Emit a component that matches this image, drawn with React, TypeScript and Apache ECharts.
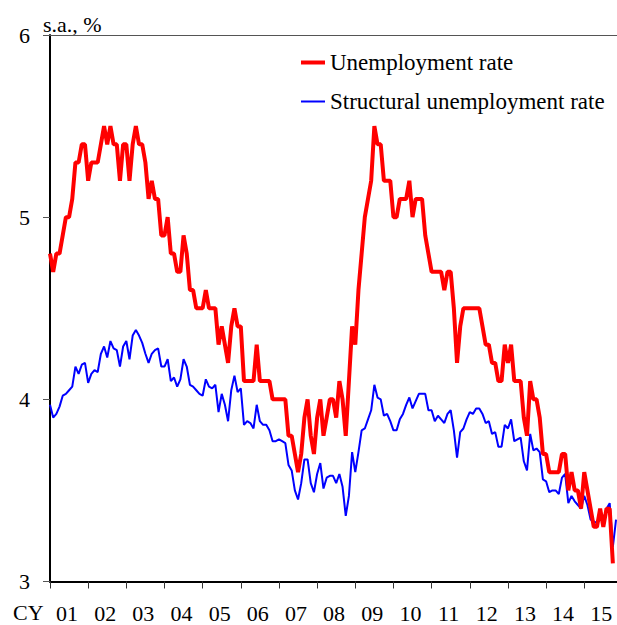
import React, { useEffect, useRef } from "react";
import * as echarts from "echarts";

// Monthly, Jan 2001 onward (index = months since Jan 2001)
const UNEMPLOYMENT: number[] = [
  // 2001
  4.8, 4.7, 4.8, 4.8, 4.9, 5.0, 5.0, 5.1, 5.3, 5.3, 5.4, 5.4,
  // 2002
  5.2, 5.3, 5.3, 5.3, 5.4, 5.5, 5.4, 5.5, 5.4, 5.4, 5.2, 5.4,
  // 2003
  5.4, 5.2, 5.4, 5.5, 5.4, 5.4, 5.3, 5.1, 5.2, 5.1, 5.1, 4.9,
  // 2004
  4.9, 5.0, 4.8, 4.8, 4.7, 4.7, 4.9, 4.8, 4.6, 4.6, 4.5, 4.5,
  // 2005
  4.5, 4.6, 4.5, 4.5, 4.5, 4.3, 4.4, 4.3, 4.2, 4.4, 4.5, 4.4,
  // 2006
  4.4, 4.1, 4.1, 4.1, 4.1, 4.3, 4.1, 4.1, 4.1, 4.1, 4.0, 4.0,
  // 2007
  4.0, 4.0, 4.0, 3.8, 3.8, 3.7, 3.6, 3.7, 3.9, 4.0, 3.8, 3.7,
  // 2008
  3.9, 4.0, 3.8, 3.9, 4.0, 4.0, 3.9, 4.1, 4.0, 3.8, 4.1, 4.4,
  // 2009
  4.3, 4.6, 4.8, 5.0, 5.1, 5.2, 5.5, 5.4, 5.4, 5.2, 5.2, 5.2,
  // 2010
  5.0, 5.0, 5.1, 5.1, 5.1, 5.2, 5.0, 5.1, 5.1, 5.1, 4.9, 4.8,
  // 2011
  4.7, 4.7, 4.7, 4.7, 4.6, 4.7, 4.7, 4.5, 4.2, 4.4, 4.5, 4.5,
  // 2012
  4.5, 4.5, 4.5, 4.5, 4.4, 4.3, 4.3, 4.2, 4.2, 4.1, 4.1, 4.3,
  // 2013
  4.2, 4.3, 4.1, 4.1, 4.1, 3.9, 3.8, 4.1, 4.0, 4.0, 3.9, 3.7,
  // 2014
  3.7, 3.6, 3.6, 3.6, 3.6, 3.7, 3.7, 3.5, 3.6, 3.5, 3.5, 3.4,
  // 2015
  3.6, 3.5, 3.4, 3.3, 3.3, 3.4, 3.3, 3.4, 3.4, 3.1,
];

const STRUCTURAL: number[] = [
  // 2001
  3.97, 3.90, 3.92, 3.96, 4.02, 4.03, 4.05, 4.07, 4.18, 4.14, 4.19, 4.20,
  // 2002
  4.09, 4.14, 4.16, 4.15, 4.25, 4.29, 4.23, 4.32, 4.28, 4.27, 4.18, 4.29,
  // 2003
  4.32, 4.22, 4.35, 4.38, 4.35, 4.31, 4.25, 4.20, 4.25, 4.27, 4.28, 4.18,
  // 2004
  4.18, 4.22, 4.10, 4.12, 4.07, 4.11, 4.22, 4.18, 4.08, 4.07, 4.05, 4.03,
  // 2005
  4.02, 4.11, 4.07, 4.06, 4.08, 3.93, 4.03, 3.97, 3.88, 4.05, 4.13, 4.04,
  // 2006
  4.06, 3.86, 3.88, 3.87, 3.84, 3.97, 3.88, 3.86, 3.86, 3.83, 3.77, 3.77,
  // 2007
  3.78, 3.77, 3.76, 3.64, 3.61, 3.50, 3.45, 3.54, 3.67, 3.67, 3.54, 3.49,
  // 2008
  3.59, 3.65, 3.51, 3.57, 3.58, 3.58, 3.54, 3.59, 3.52, 3.36, 3.47, 3.71,
  // 2009
  3.60, 3.71, 3.83, 3.84, 3.89, 3.94, 4.08, 4.01, 4.00, 3.91, 3.92, 3.88,
  // 2010
  3.83, 3.83, 3.89, 3.92, 3.97, 4.01, 3.95, 3.99, 4.03, 4.03, 4.03, 3.94,
  // 2011
  3.94, 3.88, 3.91, 3.89, 3.87, 3.92, 3.94, 3.83, 3.68, 3.82, 3.84, 3.89,
  // 2012
  3.93, 3.92, 3.95, 3.95, 3.92, 3.87, 3.88, 3.81, 3.82, 3.74, 3.74, 3.86,
  // 2013
  3.84, 3.89, 3.77, 3.78, 3.79, 3.66, 3.61, 3.81, 3.72, 3.73, 3.71, 3.56,
  // 2014
  3.55, 3.49, 3.50, 3.50, 3.48, 3.57, 3.59, 3.43, 3.47, 3.44, 3.42, 3.40,
  // 2015
  3.47, 3.42, 3.34, 3.33, 3.32, 3.34, 3.34, 3.40, 3.43, 3.19, 3.34,
];

const YEAR_LABELS: string[] = [
  "01", "02", "03", "04", "05", "06", "07", "08",
  "09", "10", "11", "12", "13", "14", "15",
];

const SERIES_NAMES = ["Unemployment rate", "Structural unemployment rate"];
const Y_UNIT = "s.a., %";
const X_PREFIX = "CY";

const FONT = "'Liberation Serif', 'Times New Roman', serif";

export default function App() {
  const ref = useRef<HTMLDivElement>(null);

  useEffect(() => {
    if (!ref.current) return;
    const chart = echarts.init(ref.current, null, { renderer: "svg" });

    const redData = UNEMPLOYMENT.map((v, i) => [i, v]);
    const blueData = STRUCTURAL.map((v, i) => [i, v]);

    chart.setOption({
      animation: false,
      backgroundColor: "#fff",
      grid: { left: 50, right: 0, top: 35, bottom: 43.5, containLabel: false },
      legend: [
        {
          data: [SERIES_NAMES[0]],
          left: 301,
          top: 51,
          padding: 0,
          itemWidth: 24,
          itemHeight: 4,
          icon: "rect",
          textStyle: { fontSize: 23, fontFamily: FONT, color: "#000" },
        },
        {
          data: [SERIES_NAMES[1]],
          left: 301,
          top: 90,
          padding: 0,
          itemWidth: 24,
          itemHeight: 2,
          icon: "rect",
          textStyle: { fontSize: 23, fontFamily: FONT, color: "#000" },
        },
      ],
      xAxis: {
        type: "value",
        min: 0,
        max: 178.3,
        interval: 12,
        axisLine: { lineStyle: { color: "#000", width: 2 } },
        axisTick: { length: 7, lineStyle: { color: "#333", width: 1 } },
        splitLine: { show: false },
        axisLabel: {
          showMaxLabel: false,
          fontSize: 22,
          fontFamily: FONT,
          color: "#000",
          margin: 21,
          padding: [0, 0, 0, 34],
          formatter: (v: number) => {
            if (v % 12 !== 0) return "";
            const idx = v / 12;
            return YEAR_LABELS[idx] ?? "";
          },
        },
      },
      yAxis: {
        type: "value",
        min: 3,
        max: 6,
        interval: 1,
        axisLine: { show: true, lineStyle: { color: "#000", width: 2 } },
        axisTick: { show: true, length: 7, lineStyle: { color: "#555", width: 1 } },
        splitLine: { show: false },
        axisLabel: { fontSize: 22, fontFamily: FONT, color: "#000", margin: 20 },
      },
      graphic: [
        {
          type: "text",
          left: 13,
          top: 601,
          style: { text: X_PREFIX, fontSize: 22, fontFamily: FONT, fill: "#000" },
        },
        {
          type: "text",
          left: 43,
          top: 13,
          style: { text: Y_UNIT, fontSize: 22, fontFamily: FONT, fill: "#000" },
        },
      ],
      series: [
        {
          name: SERIES_NAMES[1],
          type: "line",
          data: blueData,
          showSymbol: false,
          symbol: "none",
          color: "#0000FF",
          lineStyle: { color: "#0000FF", width: 2 },
          z: 2,
          markLine: {
            silent: true,
            symbol: "none",
            label: { show: false },
            lineStyle: { color: "#555", width: 1, type: "solid" },
            data: [{ yAxis: 6 }],
          },
        },
        {
          name: SERIES_NAMES[0],
          type: "line",
          data: redData,
          showSymbol: false,
          symbol: "none",
          color: "#FF0000",
          lineStyle: { color: "#FF0000", width: 4 },
          z: 3,
        },
      ],
    });

    return () => chart.dispose();
  }, []);

  return (
    <div
      ref={ref}
      style={{ position: "fixed", left: 0, top: 0, width: 617, height: 625 }}
    />
  );
}
